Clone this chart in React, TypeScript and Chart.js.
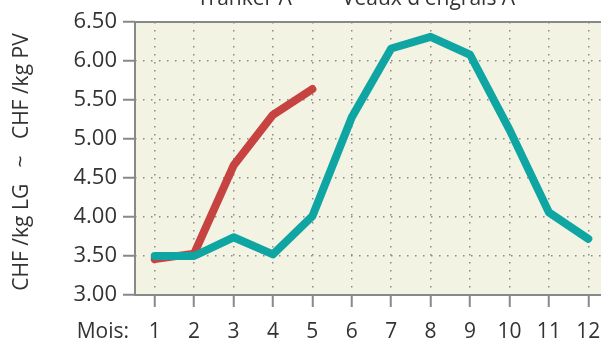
import React, { useEffect, useRef } from "react";
import { Chart, registerables } from "chart.js";

Chart.register(...registerables);

const months = ["1", "2", "3", "4", "5", "6", "7", "8", "9", "10", "11", "12"];
const trankerA = [3.46, 3.53, 4.66, 5.31, 5.64];
const veauxA = [3.5, 3.5, 3.74, 3.52, 4.01, 5.28, 6.16, 6.31, 6.08, 5.12, 4.06, 3.72];
const legendLabels = ["Tranker A", "Veaux d'engrais A"];
const yTitle = "CHF /kg LG   ~   CHF /kg PV";
const xPrefix = "Mois:";

const FONT = "'Open Sans', 'Noto Sans', sans-serif";
const W = 640;
const H = 370;
const SHIFT = 30;

const decor = {
  id: "decor",
  beforeDraw(chart: any) {
    const { ctx, chartArea: a } = chart;
    ctx.save();
    ctx.fillStyle = "#f3f3e3";
    ctx.fillRect(a.left, a.top, a.right - a.left, a.bottom - a.top);
    ctx.restore();
  },
  beforeDatasetsDraw(chart: any) {
    const { ctx, chartArea: a } = chart;
    ctx.save();
    ctx.strokeStyle = "#888888";
    ctx.lineWidth = 2;
    ctx.strokeRect(a.left, a.top, a.right - a.left, a.bottom - a.top);
    ctx.restore();
  },
  afterDraw(chart: any) {
    const { ctx } = chart;
    ctx.save();
    ctx.fillStyle = "#333333";
    ctx.font = `21px ${FONT}`;
    ctx.textBaseline = "alphabetic";
    ctx.textAlign = "left";
    ctx.fillText(legendLabels[0], 197, SHIFT + 5);
    ctx.fillText(legendLabels[1], 342, SHIFT + 5);
    ctx.textAlign = "right";
    ctx.fillText(xPrefix, 129, SHIFT + 338);
    ctx.translate(28, SHIFT + 162);
    ctx.rotate(-Math.PI / 2);
    ctx.textAlign = "center";
    ctx.font = `21px ${FONT}`;
    ctx.fillText(yTitle, 0, 0);
    ctx.restore();
  },
};

export default function App() {
  const ref = useRef<HTMLCanvasElement>(null);
  useEffect(() => {
    if (!ref.current) return;
    const chart = new Chart(ref.current, {
      type: "line",
      data: {
        labels: months,
        datasets: [
          {
            label: legendLabels[0],
            data: trankerA,
            borderColor: "#c64342",
            backgroundColor: "#c64342",
            borderWidth: 8,
            pointRadius: 0,
            borderCapStyle: "round",
            borderJoinStyle: "round",
            order: 2,
          },
          {
            label: legendLabels[1],
            data: veauxA,
            borderColor: "#0fa5a3",
            backgroundColor: "#0fa5a3",
            borderWidth: 8,
            pointRadius: 0,
            borderCapStyle: "round",
            borderJoinStyle: "round",
            order: 1,
          },
        ],
      },
      options: {
        responsive: false,
        animation: false,
        layout: { padding: { top: 52, right: 32, left: 0, bottom: 0 } },
        plugins: { legend: { display: false }, tooltip: { enabled: false }, title: { display: false } },
        scales: {
          x: {
            offset: true,
            afterFit: (s: any) => {
              s.height = 45;
            },
            grid: {
              offset: false,
              color: "#8a8a8a",
              lineWidth: 1.5,
              tickLength: 12,
              tickColor: "#888888",
              tickWidth: 2,
              tickBorderDash: [],
            },
            border: { display: false, dash: [1.5, 6.5] },
            ticks: {
              color: "#333333",
              font: { family: FONT, size: 21 },
              padding: 12,
              maxRotation: 0,
              autoSkip: false,
            },
          },
          y: {
            min: 3,
            max: 6.5,
            afterFit: (s: any) => {
              s.width = 135;
            },
            grid: {
              color: "#8a8a8a",
              lineWidth: 1.5,
              tickLength: 12,
              tickColor: "#888888",
              tickWidth: 2,
              tickBorderDash: [],
            },
            border: { display: false, dash: [1.5, 6.5] },
            ticks: {
              stepSize: 0.5,
              color: "#333333",
              font: { family: FONT, size: 22 },
              padding: 6,
              callback: (v: any) => Number(v).toFixed(2),
            },
          },
        },
      },
      plugins: [decor],
    });
    return () => chart.destroy();
  }, []);
  return (
    <div
      style={{
        position: "fixed",
        left: 0,
        top: 0,
        width: 601,
        height: 340,
        overflow: "hidden",
        background: "#ffffff",
      }}
    >
      <canvas
        ref={ref}
        width={W}
        height={H}
        style={{ position: "absolute", left: 0, top: -SHIFT, width: W, height: H }}
      />
    </div>
  );
}
